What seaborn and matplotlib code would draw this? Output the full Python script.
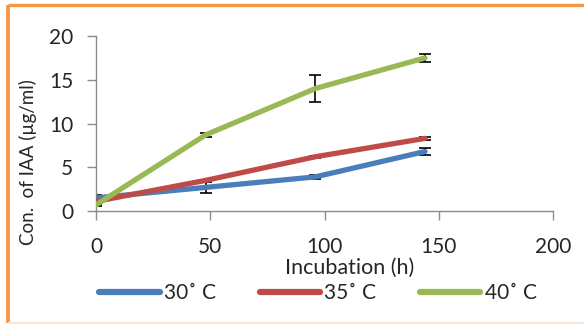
import matplotlib
matplotlib.use("Agg")
import matplotlib.pyplot as plt
from matplotlib.lines import Line2D
import seaborn as sns
import pandas as pd

# IAA production over incubation time at three temperatures
hours = [0, 48, 96, 144]
temps = ["30˚ C", "35˚ C", "40˚ C"]
iaa_30 = [1.5, 2.7, 3.9, 6.8]
iaa_35 = [1.1, 3.5, 6.2, 8.3]
iaa_40 = [0.7, 8.7, 14.0, 17.5]
err_30 = [0.3, 0.6, 0.25, 0.45]
err_35 = [0.1, 0.1, 0.1, 0.15]
err_40 = [0.1, 0.2, 1.5, 0.5]
x_ticks = [0, 50, 100, 150, 200]
y_ticks = [0, 5, 10, 15, 20]

colors = ["#4a7ebb", "#be4b48", "#98b954"]

df = pd.DataFrame({
    "hours": hours * 3,
    "iaa": iaa_30 + iaa_35 + iaa_40,
    "err": err_30 + err_35 + err_40,
    "temp": [t for t in temps for _ in hours],
})

sns.set_style("white")
plt.rcParams["font.family"] = ["Lato", "DejaVu Sans"]

fig = plt.figure(figsize=(5.84, 3.24), dpi=100)
ax = fig.add_axes([96 / 584, 1 - 211 / 324, 457 / 584, 175 / 324])

# error bars (drawn beneath the lines)
for t in temps:
    sub = df[df["temp"] == t]
    ax.errorbar(sub["hours"], sub["iaa"], yerr=sub["err"], fmt="none",
                ecolor="black", elinewidth=1.2, capsize=4, capthick=1.2, zorder=2)

sns.lineplot(data=df, x="hours", y="iaa", hue="temp", palette=colors,
             linewidth=3.8, legend=False, ax=ax, zorder=3,
             solid_capstyle="round")

ax.set_xlim(0, 200)
ax.set_ylim(0, 20)
ax.set_xticks(x_ticks)
ax.set_yticks(y_ticks)
ax.tick_params(axis="both", labelsize=15, length=6.5, width=1, color="#8c8c8c",
               direction="out", bottom=True, left=True)
ax.tick_params(axis="x", pad=12)
ax.tick_params(axis="y", pad=10)
for side in ["top", "right"]:
    ax.spines[side].set_visible(False)
for side in ["left", "bottom"]:
    ax.spines[side].set_color("#8c8c8c")
    ax.spines[side].set_linewidth(1)

ax.set_xlabel("Incubation (h)", fontsize=15.5)
ax.set_ylabel("Con.  of IAA (µg/ml)", fontsize=13.5)
ax.xaxis.set_label_coords(0.556, -0.27)
ax.yaxis.set_label_coords(-0.13, 0.28)

handles = [Line2D([], [], color=c, linewidth=4.5, solid_capstyle="round") for c in colors]
fig.legend(handles, temps, loc="center", bbox_to_anchor=(318 / 584, 1 - 293 / 324),
           ncol=3, frameon=False, fontsize=15, handlelength=2.9,
           handletextpad=0.2, columnspacing=2.1)

# frame lines around the chart area: orange top and left, pale bottom
def px(x, y):
    return x / 584, 1 - y / 324

for (x0, y0), (x1, y1), col, lw in [
    ((8, 4.5), (584, 4.5), "#f79646", 2.4),
    ((8, 4.5), (8, 322.5), "#f79646", 2.8),
    ((8, 322.5), (584, 322.5), "#fbe3d1", 1.5),
]:
    (fx0, fy0), (fx1, fy1) = px(x0, y0), px(x1, y1)
    fig.add_artist(Line2D([fx0, fx1], [fy0, fy1], transform=fig.transFigure,
                          color=col, linewidth=lw, solid_capstyle="butt"))

fig.savefig("out.png", dpi=100)
